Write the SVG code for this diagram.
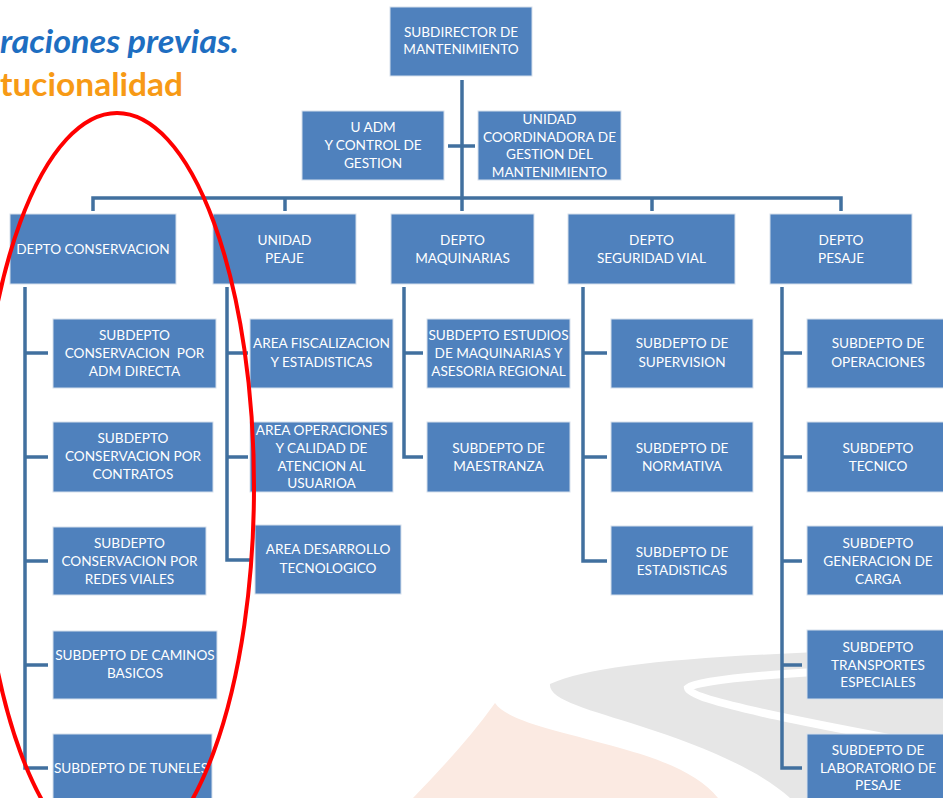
<svg xmlns="http://www.w3.org/2000/svg" width="943" height="798" viewBox="0 0 943 798">
  <defs>
    <style>
      .box { fill: #4F81BD; stroke: #D5DFEC; stroke-width: 1; }
      .lbl { font-family: Lato, "Liberation Sans", sans-serif; font-size: 13.6px; fill: #FFFFFF; text-anchor: middle; }
      .conn { fill: none; stroke: #41709F; stroke-width: 3.5; stroke-linejoin: miter; }
      .title { font-family: Lato, "Liberation Sans", sans-serif; font-weight: bold; }
    </style>
  </defs>

  <rect x="0" y="0" width="943" height="798" fill="#FFFFFF"/>

  <!-- faint road watermark in the lower right -->
  <g id="watermark">
    <path d="M 550,684 C 600,662 720,654 943,648 L 943,798 L 790,798 C 760,770 700,745 640,726 C 590,710 548,700 550,684 Z" fill="#E6E6E6"/>
    <path d="M 943,666 C 820,670 700,678 688,688 C 690,700 800,722 943,748" fill="none" stroke="#FFFFFF" stroke-width="8"/>
    <path d="M 495,703 C 470,738 440,770 413,798 L 718,798 C 700,776 670,762 620,748 C 560,731 508,722 495,703 Z" fill="#FBEAE2"/>
  </g>

  <!-- heading fragments -->
  <text class="title" x="0" y="53" font-size="32" font-style="italic" fill="#1E6EC1" textLength="239" lengthAdjust="spacingAndGlyphs">raciones previas.</text>
  <text class="title" x="0" y="96" font-size="32" fill="#F79A16" textLength="183" lengthAdjust="spacingAndGlyphs">tucionalidad</text>

  <!-- connectors -->
  <g id="connectors">
    <path class="conn" d="M 462,80 V 198"/>
    <path class="conn" d="M 448,146 H 475"/>
    <path class="conn" d="M 93,211 V 198 H 841 V 211"/>
    <path class="conn" d="M 285,198 V 211"/>
    <path class="conn" d="M 462,198 V 211"/>
    <path class="conn" d="M 652,198 V 211"/>
    <!-- DEPTO CONSERVACION -->
    <path class="conn" d="M 25,287 V 768 H 48"/>
    <path class="conn" d="M 25,353 H 48 M 25,457 H 48 M 25,561 H 48 M 25,665 H 48"/>
    <!-- UNIDAD PEAJE -->
    <path class="conn" d="M 227,287 V 560 H 252"/>
    <path class="conn" d="M 227,353 H 248 M 227,457 H 248"/>
    <!-- DEPTO MAQUINARIAS -->
    <path class="conn" d="M 404,287 V 457 H 423"/>
    <path class="conn" d="M 404,353 H 423"/>
    <!-- DEPTO SEGURIDAD VIAL -->
    <path class="conn" d="M 583,287 V 561 H 607"/>
    <path class="conn" d="M 583,353 H 607 M 583,457 H 607"/>
    <!-- DEPTO PESAJE -->
    <path class="conn" d="M 782,287 V 768 H 802"/>
    <path class="conn" d="M 782,353 H 802 M 782,457 H 802 M 782,561 H 802 M 782,665 H 802"/>
  </g>

  <!-- top level -->
  <g id="subdirector">
    <rect class="box" x="390" y="7" width="142" height="69"/>
    <text class="lbl" x="461" y="37">SUBDIRECTOR DE</text>
    <text class="lbl" x="461" y="54">MANTENIMIENTO</text>
  </g>
  <g id="u-adm">
    <rect class="box" x="302" y="111" width="142" height="69"/>
    <text class="lbl" x="373" y="132">U ADM</text>
    <text class="lbl" x="373" y="150">Y CONTROL DE</text>
    <text class="lbl" x="373" y="168">GESTION</text>
  </g>
  <g id="unidad-coordinadora">
    <rect class="box" x="478" y="111" width="143" height="69"/>
    <text class="lbl" x="549.5" y="124">UNIDAD</text>
    <text class="lbl" x="549.5" y="142">COORDINADORA DE</text>
    <text class="lbl" x="549.5" y="159">GESTION DEL</text>
    <text class="lbl" x="549.5" y="177">MANTENIMIENTO</text>
  </g>

  <!-- departments -->
  <g id="depto-conservacion">
    <rect class="box" x="10" y="214" width="166" height="70"/>
    <text class="lbl" x="93" y="254">DEPTO CONSERVACION</text>
  </g>
  <g id="unidad-peaje">
    <rect class="box" x="213" y="214" width="143" height="70"/>
    <text class="lbl" x="284.5" y="245">UNIDAD</text>
    <text class="lbl" x="284.5" y="263">PEAJE</text>
  </g>
  <g id="depto-maquinarias">
    <rect class="box" x="391" y="214" width="143" height="70"/>
    <text class="lbl" x="462.5" y="245">DEPTO</text>
    <text class="lbl" x="462.5" y="263">MAQUINARIAS</text>
  </g>
  <g id="depto-seguridad-vial">
    <rect class="box" x="568" y="214" width="167" height="70"/>
    <text class="lbl" x="651.5" y="245">DEPTO</text>
    <text class="lbl" x="651.5" y="263">SEGURIDAD VIAL</text>
  </g>
  <g id="depto-pesaje">
    <rect class="box" x="770" y="214" width="142" height="70"/>
    <text class="lbl" x="841" y="245">DEPTO</text>
    <text class="lbl" x="841" y="263">PESAJE</text>
  </g>

  <!-- conservacion units -->
  <g id="sub-adm-directa">
    <rect class="box" x="53" y="319" width="163" height="69"/>
    <text class="lbl" x="134.5" y="340">SUBDEPTO</text>
    <text class="lbl" x="134.5" y="358" xml:space="preserve">CONSERVACION  POR</text>
    <text class="lbl" x="134.5" y="376">ADM DIRECTA</text>
  </g>
  <g id="sub-contratos">
    <rect class="box" x="53" y="422" width="160" height="70"/>
    <text class="lbl" x="133" y="443">SUBDEPTO</text>
    <text class="lbl" x="133" y="461">CONSERVACION POR</text>
    <text class="lbl" x="133" y="479">CONTRATOS</text>
  </g>
  <g id="sub-redes-viales">
    <rect class="box" x="53" y="527" width="153" height="68"/>
    <text class="lbl" x="129.5" y="548">SUBDEPTO</text>
    <text class="lbl" x="129.5" y="566">CONSERVACION POR</text>
    <text class="lbl" x="129.5" y="584">REDES VIALES</text>
  </g>
  <g id="sub-caminos-basicos">
    <rect class="box" x="53" y="631" width="164" height="68"/>
    <text class="lbl" x="135" y="660">SUBDEPTO DE CAMINOS</text>
    <text class="lbl" x="135" y="678">BASICOS</text>
  </g>
  <g id="sub-tuneles">
    <rect class="box" x="53" y="734" width="159" height="70"/>
    <text class="lbl" x="131" y="773">SUBDEPTO DE TUNELES</text>
  </g>

  <!-- peaje units -->
  <g id="area-fiscalizacion">
    <rect class="box" x="250" y="319" width="143" height="69"/>
    <text class="lbl" x="321.5" y="348">AREA FISCALIZACION</text>
    <text class="lbl" x="321.5" y="367">Y ESTADISTICAS</text>
  </g>
  <g id="area-operaciones">
    <rect class="box" x="250" y="422" width="143" height="70"/>
    <text class="lbl" x="321.5" y="435">AREA OPERACIONES</text>
    <text class="lbl" x="321.5" y="453">Y CALIDAD DE</text>
    <text class="lbl" x="321.5" y="471">ATENCION AL</text>
    <text class="lbl" x="321.5" y="488">USUARIOA</text>
  </g>
  <g id="area-desarrollo">
    <rect class="box" x="255" y="525" width="146" height="69"/>
    <text class="lbl" x="328" y="554">AREA DESARROLLO</text>
    <text class="lbl" x="328" y="573">TECNOLOGICO</text>
  </g>

  <!-- maquinarias units -->
  <g id="sub-estudios">
    <rect class="box" x="427" y="319" width="143" height="69"/>
    <text class="lbl" x="498.5" y="340">SUBDEPTO ESTUDIOS</text>
    <text class="lbl" x="498.5" y="358">DE MAQUINARIAS Y</text>
    <text class="lbl" x="498.5" y="376">ASESORIA REGIONAL</text>
  </g>
  <g id="sub-maestranza">
    <rect class="box" x="427" y="422" width="143" height="70"/>
    <text class="lbl" x="498.5" y="453">SUBDEPTO DE</text>
    <text class="lbl" x="498.5" y="471">MAESTRANZA</text>
  </g>

  <!-- seguridad vial units -->
  <g id="sub-supervision">
    <rect class="box" x="611" y="319" width="142" height="69"/>
    <text class="lbl" x="682" y="348">SUBDEPTO DE</text>
    <text class="lbl" x="682" y="367">SUPERVISION</text>
  </g>
  <g id="sub-normativa">
    <rect class="box" x="611" y="422" width="142" height="70"/>
    <text class="lbl" x="682" y="453">SUBDEPTO DE</text>
    <text class="lbl" x="682" y="471">NORMATIVA</text>
  </g>
  <g id="sub-estadisticas">
    <rect class="box" x="611" y="526" width="142" height="69"/>
    <text class="lbl" x="682" y="557">SUBDEPTO DE</text>
    <text class="lbl" x="682" y="575">ESTADISTICAS</text>
  </g>

  <!-- pesaje units -->
  <g id="sub-operaciones">
    <rect class="box" x="807" y="319" width="142" height="69"/>
    <text class="lbl" x="878" y="348">SUBDEPTO DE</text>
    <text class="lbl" x="878" y="367">OPERACIONES</text>
  </g>
  <g id="sub-tecnico">
    <rect class="box" x="807" y="422" width="142" height="70"/>
    <text class="lbl" x="878" y="453">SUBDEPTO</text>
    <text class="lbl" x="878" y="471">TECNICO</text>
  </g>
  <g id="sub-generacion-carga">
    <rect class="box" x="807" y="526" width="142" height="69"/>
    <text class="lbl" x="878" y="548">SUBDEPTO</text>
    <text class="lbl" x="878" y="566">GENERACION DE</text>
    <text class="lbl" x="878" y="584">CARGA</text>
  </g>
  <g id="sub-transportes">
    <rect class="box" x="807" y="630" width="142" height="69"/>
    <text class="lbl" x="878" y="652">SUBDEPTO</text>
    <text class="lbl" x="878" y="670">TRANSPORTES</text>
    <text class="lbl" x="878" y="687">ESPECIALES</text>
  </g>
  <g id="sub-laboratorio">
    <rect class="box" x="807" y="734" width="142" height="70"/>
    <text class="lbl" x="878" y="755">SUBDEPTO DE</text>
    <text class="lbl" x="878" y="773">LABORATORIO DE</text>
    <text class="lbl" x="878" y="790">PESAJE</text>
  </g>

  <!-- red highlight around the conservation branch -->
  <ellipse cx="117" cy="487" rx="137" ry="374" fill="none" stroke="#FF0000" stroke-width="4"/>
</svg>
